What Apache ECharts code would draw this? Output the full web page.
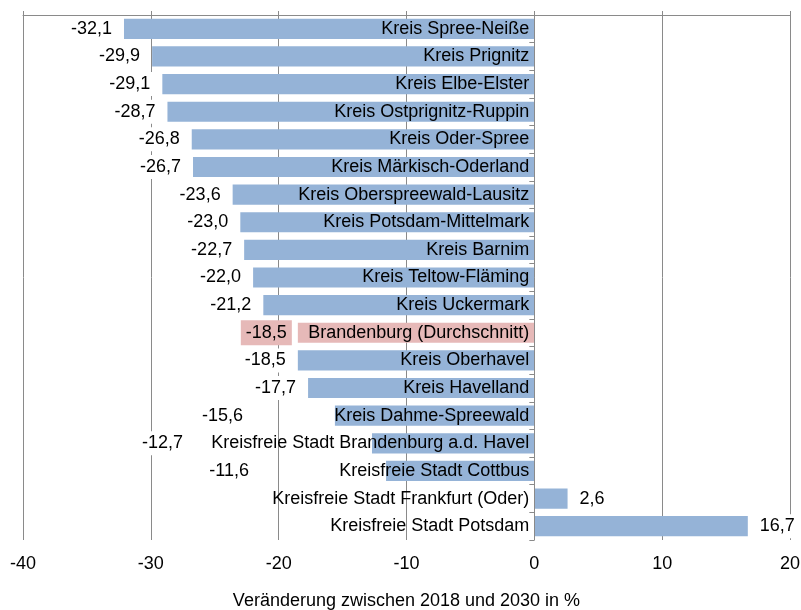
<!DOCTYPE html>
<html>
<head>
<meta charset="utf-8">
<script src="https://cdn.jsdelivr.net/npm/echarts@6/dist/echarts.min.js"></script>
<style>
html,body{margin:0;padding:0;background:#fff;}
#chart{width:801px;height:610px;}
</style>
</head>
<body>
<div id="chart"></div>
<script>
const categories = [
  "Kreis Spree-Neiße","Kreis Prignitz","Kreis Elbe-Elster","Kreis Ostprignitz-Ruppin",
  "Kreis Oder-Spree","Kreis Märkisch-Oderland","Kreis Oberspreewald-Lausitz",
  "Kreis Potsdam-Mittelmark","Kreis Barnim","Kreis Teltow-Fläming","Kreis Uckermark",
  "Brandenburg (Durchschnitt)","Kreis Oberhavel","Kreis Havelland","Kreis Dahme-Spreewald",
  "Kreisfreie Stadt Brandenburg a.d. Havel","Kreisfreie Stadt Cottbus",
  "Kreisfreie Stadt Frankfurt (Oder)","Kreisfreie Stadt Potsdam"
];
const values = [-32.1,-29.9,-29.1,-28.7,-26.8,-26.7,-23.6,-23.0,-22.7,-22.0,-21.2,-18.5,-18.5,-17.7,-15.6,-12.7,-11.6,2.6,16.7];
const highlightCategory = "Brandenburg (Durchschnitt)";
const axisName = "Veränderung zwischen 2018 und 2030 in %";

// label shift (px) for value labels that would collide with category labels
const labelShift = {"Kreis Dahme-Spreewald": -80, "Kreisfreie Stadt Brandenburg a.d. Havel": -177, "Kreisfreie Stadt Cottbus": -125};

const BLUE = '#95b3d7', PINK = '#e6b9b8';
const FONT = 'Liberation Sans, Arial, sans-serif';
const FS = 18;
const fmt = v => v.toFixed(1).replace('.', ',');

const seriesData = values.map((v, i) => {
  const cat = categories[i];
  const hl = cat === highlightCategory;
  const shift = labelShift[cat] || 0;
  return {
    value: v,
    itemStyle: { color: hl ? PINK : BLUE },
    label: {
      position: v < 0 ? 'left' : 'right',
      offset: [shift, 0],
      backgroundColor: hl ? PINK : '#fff',
      padding: hl ? [4, 5, 3, 5] : [3, 6]
    }
  };
});

// category names drawn at the zero line
const nameData = categories.map((c, i) => ({ value: [0, i], name: c }));

const chart = echarts.init(document.getElementById('chart'), null, {renderer: 'canvas'});
chart.setOption({
  animation: false,
  backgroundColor: '#fff',
  textStyle: { fontFamily: FONT },
  grid: { left: 23, right: 11, top: 15, bottom: 70, containLabel: false, outerBoundsMode: 'none' },
  xAxis: [{
    type: 'value', min: -40, max: 20, interval: 10, position: 'bottom', z: 0,
    axisLine: { show: false },
    axisTick: { show: false },
    axisLabel: { color: '#000', fontSize: FS, fontFamily: FONT, margin: 15 },
    splitLine: { show: true, lineStyle: { color: '#8a8a8a', width: 1 } },
    name: axisName, nameLocation: 'middle', nameGap: 52,
    nameTextStyle: { color: '#000', fontSize: FS, fontFamily: FONT }
  }, {
    type: 'value', min: -40, max: 20, interval: 10, position: 'top', z: 0,
    axisLine: { show: true, onZero: false, lineStyle: { color: '#8a8a8a', width: 1 } },
    axisTick: { show: true, length: 4, lineStyle: { color: '#8a8a8a' } },
    axisLabel: { show: false },
    splitLine: { show: false }
  }],
  yAxis: {
    type: 'category', data: categories, inverse: true, z: 5,
    axisLine: { show: true, onZero: true, onZeroAxisIndex: 0, lineStyle: { color: '#8a8a8a', width: 1 } },
    axisTick: { show: true, length: 5, lineStyle: { color: '#8a8a8a' } },
    axisLabel: { show: false },
    splitLine: { show: false }
  },
  series: [{
    type: 'bar', xAxisIndex: 0, data: seriesData, barCategoryGap: '27%', z: 2,
    label: {
      show: true, color: '#000', fontSize: FS, fontFamily: FONT,
      distance: 6,
      formatter: p => fmt(p.value)
    }
  }, {
    type: 'scatter', xAxisIndex: 0, data: nameData, symbolSize: 0, z: 10,
    silent: true,
    itemStyle: { opacity: 1 },
    label: {
      show: true, position: 'left', distance: 5, color: '#000', fontSize: FS, fontFamily: FONT,
      formatter: p => p.name
    }
  }]
});
</script>
</body>
</html>
